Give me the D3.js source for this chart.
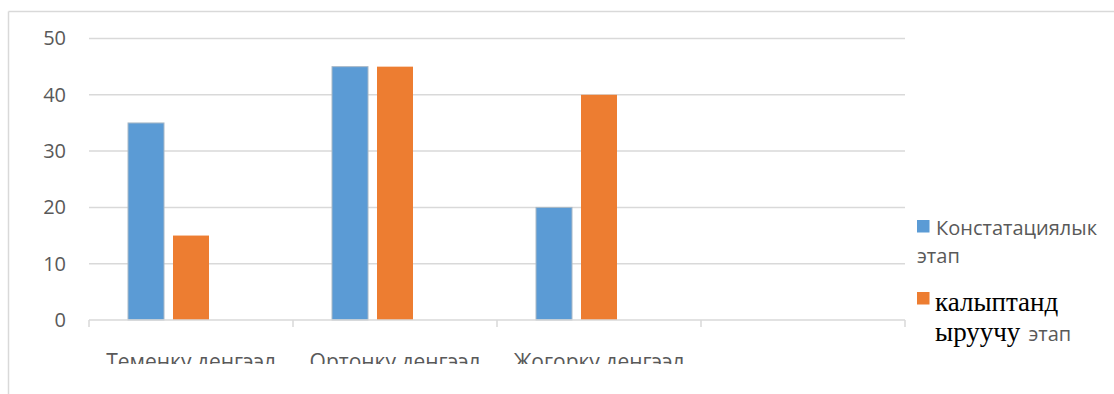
<!DOCTYPE html>
<html>
<head>
<meta charset="utf-8">
<script src="https://cdn.jsdelivr.net/npm/d3@7"></script>
<style>
  html, body { margin: 0; padding: 0; background: #fff; }
  svg { display: block; }
</style>
</head>
<body>
<svg id="chart" width="1114" height="394"></svg>
<script>
// Categories (the fourth slot is an empty category in the source workbook)
const categories = ["Теменку денгээл", "Ортонку денгээл", "Жогорку денгээл", ""];
// Series: the third one is empty and only reserves room in each group
const seriesNames = ["Констатациялык этап", "калыптандыруучу этап", "series3"];
const constatValues = [35, 45, 20, null];
const formValues = [15, 45, 40, null];
const thirdValues = [null, null, null, null];
const yTicks = [0, 10, 20, 30, 40, 50];

const colors = ["#5B9BD5", "#ED7D31", "#A5A5A5"];
const seriesValues = [constatValues, formValues, thirdValues];
const sansFont = "'Open Sans', 'Liberation Sans', sans-serif";
const serifFont = "'Liberation Serif', 'DejaVu Serif', serif";

const svg = d3.select("#chart");

// chart frame (top and left edges only show in the visible area)
svg.append("line").attr("x1", 8.5).attr("x2", 1114).attr("y1", 11.5).attr("y2", 11.5)
  .attr("stroke", "#d9d9d9").attr("stroke-width", 1.5);
svg.append("line").attr("x1", 8.5).attr("x2", 8.5).attr("y1", 11.5).attr("y2", 394)
  .attr("stroke", "#d9d9d9").attr("stroke-width", 1.5);

const plotLeft = 89, plotRight = 905, plotTop = 38.5, plotBottom = 320;

const x = d3.scaleBand().domain(d3.range(categories.length)).range([plotLeft, plotRight]).padding(0);
const xs = d3.scaleBand().domain(d3.range(seriesNames.length))
  .range([0, x.bandwidth()]).paddingInner(0.2).paddingOuter(0.867);
const y = d3.scaleLinear().domain([0, 50]).range([plotBottom, plotTop]);

// gridlines
svg.append("g").selectAll("line").data(yTicks.filter(t => t > 0)).join("line")
  .attr("x1", plotLeft).attr("x2", plotRight)
  .attr("y1", d => y(d)).attr("y2", d => y(d))
  .attr("stroke", "#d9d9d9").attr("stroke-width", 1.5);

// y axis labels
const yAxis = d3.axisLeft(y).tickValues(yTicks).tickSize(0).tickPadding(23);
const gy = svg.append("g").attr("transform", `translate(${plotLeft},0)`).call(yAxis);
gy.select(".domain").remove();
gy.selectAll("text").attr("fill", "#595959")
  .style("font-family", sansFont).style("font-size", "20px");

// bars
seriesValues.forEach((vals, si) => {
  svg.append("g").selectAll("rect")
    .data(vals.map((v, i) => ({ v, i })).filter(d => d.v != null))
    .join("rect")
    .attr("x", d => x(d.i) + xs(si))
    .attr("width", xs.bandwidth())
    .attr("y", d => y(d.v))
    .attr("height", d => y(0) - y(d.v))
    .attr("fill", colors[si])
    .attr("stroke", si === 0 ? "#a9b8c6" : "none")
    .attr("stroke-width", 1);
});

// category axis line and boundary ticks
const gx = svg.append("g").attr("transform", `translate(0,${plotBottom})`);
gx.append("line").attr("x1", plotLeft).attr("x2", plotRight).attr("y1", 0).attr("y2", 0)
  .attr("stroke", "#d9d9d9").attr("stroke-width", 1.5);
gx.selectAll("line.tick").data(d3.range(categories.length + 1)).join("line")
  .attr("class", "tick")
  .attr("x1", d => plotLeft + d * x.step()).attr("x2", d => plotLeft + d * x.step())
  .attr("y1", 0).attr("y2", 7)
  .attr("stroke", "#d9d9d9").attr("stroke-width", 1.5);

// labels are cut off at the bottom of the category area
svg.append("clipPath").attr("id", "labelClip")
  .append("rect").attr("x", 0).attr("y", 0).attr("width", 1114).attr("height", 364);
const labels = svg.append("g").attr("clip-path", "url(#labelClip)");
labels.selectAll("text").data(categories).join("text")
  .attr("x", (d, i) => x(i) + x.bandwidth() / 2)
  .attr("y", 369)
  .attr("text-anchor", "middle")
  .attr("fill", "#595959")
  .style("font-family", sansFont)
  .style("font-size", "21px")
  .text(d => d);

// legend
const legend = svg.append("g");
legend.append("rect").attr("x", 917).attr("y", 220).attr("width", 12.5).attr("height", 12.5).attr("fill", colors[0]);
legend.append("text").attr("x", 936).attr("y", 235).attr("fill", "#595959")
  .style("font-family", sansFont).style("font-size", "20px")
  .text("Констатациялык");
legend.append("text").attr("x", 917).attr("y", 263).attr("fill", "#595959")
  .style("font-family", sansFont).style("font-size", "20px")
  .text("этап");

legend.append("rect").attr("x", 917).attr("y", 292).attr("width", 12.5).attr("height", 12.5).attr("fill", colors[1]);
legend.append("text").attr("x", 935).attr("y", 311).attr("fill", "#000")
  .style("font-family", serifFont).style("font-size", "27px")
  .text("калыптанд");
const l2 = legend.append("text").attr("x", 935).attr("y", 341);
l2.append("tspan").attr("fill", "#000")
  .style("font-family", serifFont).style("font-size", "27px")
  .text("ыруучу");
l2.append("tspan").attr("fill", "#595959").attr("dx", 8)
  .style("font-family", sansFont).style("font-size", "20px")
  .text("этап");
</script>
</body>
</html>
